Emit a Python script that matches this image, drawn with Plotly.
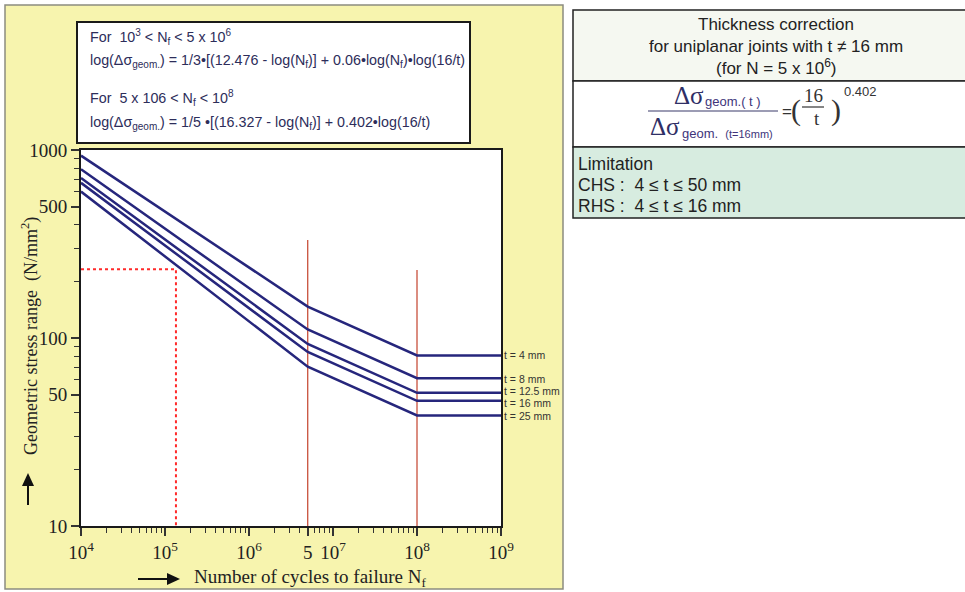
import math
import plotly.graph_objects as go

W, H = 965, 592

# S-N data: number of cycles and geometric stress range (N/mm2) for each wall thickness
cycles = [1e4, 5e6, 1e8, 1e9]
thickness_labels = ["t = 4 mm", "t = 8 mm", "t = 12.5 mm", "t = 16 mm", "t = 25 mm"]
stress_t4 = [933, 147, 80.8, 80.8]
stress_t8 = [790, 111, 61.1, 61.1]
stress_t12_5 = [710, 93.0, 51.1, 51.1]
stress_t16 = [669, 84.3, 46.3, 46.3]
stress_t25 = [601, 70.4, 38.7, 38.7]
series = [stress_t4, stress_t8, stress_t12_5, stress_t16, stress_t25]
label_nudge = [0, -1, 2, -2, 0]

# reference lines: slope changes at 5e6 and cut-off at 1e8
cutoff_cycles = [5e6, 1e8]
cutoff_tops = [332, 230]
# worked example read-off
example_cycles = 1.35e5
example_stress = 232

x_tick_vals = [1e4, 1e5, 1e6, 5e6, 1e7, 1e8, 1e9]
x_tick_text = ["10<sup>4</sup>", "10<sup>5</sup>", "10<sup>6</sup>", "5",
               "10<sup>7</sup>", "10<sup>8</sup>", "10<sup>9</sup>"]
y_tick_vals = [10, 50, 100, 500, 1000]
y_tick_text = ["10", "50", "100", "500", "1000"]

x_minor = [k * 10 ** d for d in range(4, 9) for k in range(2, 10)]
y_minor = [k * 10 ** d for d in range(1, 3) for k in range(2, 10)]

NAVY = "#26267c"
RED = "#c8503c"
DOT_RED = "#ff2a2a"
SERIF = "Liberation Serif"
SANS = "Liberation Sans"
BOX_TEXT = "#2d2d5a"


def px(x):
    return x / W


def py(y):
    return 1 - y / H


fig = go.Figure()

for xc, top in zip(cutoff_cycles, cutoff_tops):
    fig.add_trace(go.Scatter(x=[xc, xc], y=[10, top], mode="lines",
                             line=dict(color=RED, width=1.3), hoverinfo="skip"))

fig.add_trace(go.Scatter(x=[1e4, example_cycles, example_cycles],
                         y=[example_stress, example_stress, 10], mode="lines",
                         line=dict(color=DOT_RED, width=2, dash="dot"), hoverinfo="skip"))

for vals, name in zip(series, thickness_labels):
    fig.add_trace(go.Scatter(x=cycles, y=vals, mode="lines", name=name,
                             line=dict(color=NAVY, width=2.5)))

axis_common = dict(
    type="log", showline=True, linecolor="#1a1a1a", linewidth=2, mirror=True,
    ticks="outside", ticklen=8, tickwidth=1.5, tickcolor="#333",
    showgrid=False, zeroline=False, tickangle=0, automargin=False,
    tickfont=dict(family=SERIF, size=19, color="#222"),
)

fig.update_layout(
    template="none",
    width=W, height=H, margin=dict(l=0, r=0, t=0, b=0, autoexpand=False),
    paper_bgcolor="white", plot_bgcolor="white", showlegend=False,
    xaxis=dict(axis_common, range=[4, 9], domain=[px(81), px(501)],
               tickmode="array", tickvals=x_tick_vals, ticktext=x_tick_text,
               minor=dict(tickmode="array", tickvals=x_minor, ticks="outside",
                          ticklen=5, tickwidth=1.2, tickcolor="#333", showgrid=False)),
    yaxis=dict(axis_common, range=[1, 3], domain=[py(526), py(150)],
               tickmode="array", tickvals=y_tick_vals, ticktext=y_tick_text,
               minor=dict(tickmode="array", tickvals=y_minor, ticks="outside",
                          ticklen=5, tickwidth=1.2, tickcolor="#333", showgrid=False)),
)

shapes = []
# yellow panel holding the diagram
shapes.append(dict(type="rect", xref="paper", yref="paper", layer="below",
                   x0=px(5), x1=px(563), y0=py(589), y1=py(5),
                   fillcolor="#f7f4ae", line=dict(color="#8c8c80", width=1.5)))
# white plotting area
shapes.append(dict(type="rect", xref="paper", yref="paper", layer="below",
                   x0=px(81), x1=px(501), y0=py(526), y1=py(150),
                   fillcolor="white", line=dict(width=0)))
# formula box
shapes.append(dict(type="rect", xref="paper", yref="paper", layer="below",
                   x0=px(77), x1=px(470), y0=py(143), y1=py(22),
                   fillcolor="white", line=dict(color="#1a1a1a", width=2)))
# thickness correction table
for y0, y1, fill in [(10, 81, "#f5f8f1"), (81, 147, "#ffffff"), (147, 218, "#d7ece0")]:
    shapes.append(dict(type="rect", xref="paper", yref="paper", layer="below",
                       x0=px(573), x1=1.02, y0=py(y1), y1=py(y0),
                       fillcolor=fill, line=dict(color="#222", width=1.5)))
# fraction bars
shapes.append(dict(type="line", xref="paper", yref="paper",
                   x0=px(648), x1=px(778), y0=py(111), y1=py(111),
                   line=dict(color="#3a3a6a", width=1.2)))
shapes.append(dict(type="line", xref="paper", yref="paper",
                   x0=px(802), x1=px(824), y0=py(107), y1=py(107),
                   line=dict(color="#333", width=1.2)))
# axis title arrows
shapes.append(dict(type="line", xref="paper", yref="paper",
                   x0=px(138), x1=px(170), y0=py(579), y1=py(579),
                   line=dict(color="#111", width=2)))
shapes.append(dict(type="path", xref="paper", yref="paper",
                   path=f"M {px(167)},{py(573)} L {px(180)},{py(579)} L {px(167)},{py(585)} Z",
                   fillcolor="#111", line=dict(width=0)))
shapes.append(dict(type="line", xref="paper", yref="paper",
                   x0=px(28), x1=px(28), y0=py(505), y1=py(483),
                   line=dict(color="#111", width=2)))
shapes.append(dict(type="path", xref="paper", yref="paper",
                   path=f"M {px(22)},{py(486)} L {px(28)},{py(473)} L {px(34)},{py(486)} Z",
                   fillcolor="#111", line=dict(width=0)))
fig.update_layout(shapes=shapes)

ann = []


def text(x, y, s, size, family=SANS, color="#222", xanchor="left", **kw):
    ann.append(dict(xref="paper", yref="paper", x=px(x), y=py(y), text=s,
                    showarrow=False, xanchor=xanchor, yanchor="middle",
                    font=dict(family=family, size=size, color=color), **kw))


# fatigue equations
text(88, 37, "For  10<sup>3</sup> &lt; N<sub>f</sub> &lt; 5 x 10<sup>6</sup>", 14.3, color=BOX_TEXT)
text(88, 61, "log(Δσ<sub>geom.</sub>) = 1/3•[(12.476 - log(N<sub>f</sub>)] + 0.06•log(N<sub>f</sub>)•log(16/t)",
     14.3, color=BOX_TEXT)
text(88, 98, "For  5 x 106 &lt; N<sub>f</sub> &lt; 10<sup>8</sup>", 14.3, color=BOX_TEXT)
text(88, 123, "log(Δσ<sub>geom.</sub>) = 1/5 •[(16.327 - log(N<sub>f</sub>)] + 0.402•log(16/t)",
     14.3, color=BOX_TEXT)

# curve labels at the right end of each line
for vals, name, dy in zip(series, thickness_labels, label_nudge):
    ann.append(dict(xref="x", yref="y", x=9, y=math.log10(vals[-1]),
                    text=name, showarrow=False, xanchor="left", yanchor="middle",
                    xshift=1, yshift=dy, font=dict(family=SANS, size=10.5, color="#333")))

# axis titles
text(30, 336, "Geometric stress range  (N/mm<sup>2</sup>)", 18, family=SERIF,
     xanchor="center", textangle=-90)
text(192, 578, "Number of cycles to failure N<sub>f</sub>", 19, family=SERIF)

# thickness correction table text
text(776, 25, "Thickness correction", 17, xanchor="center")
text(776, 46, "for uniplanar joints with t ≠ 16 mm", 17, xanchor="center")
text(776, 67, "(for N = 5 x 10<sup>6</sup>)", 17, xanchor="center")

text(689, 95, "Δσ", 25, family=SERIF, color="#2f2f66", xanchor="center")
text(703, 102, "geom.( t )", 13, color="#40357a")
text(665, 127, "Δσ", 25, family=SERIF, color="#2f2f66", xanchor="center")
text(680, 133, "geom.  <span style='font-size:11px'>(t=16mm)</span>", 13, color="#40357a")
text(787, 111, "=", 17, color="#333", xanchor="center")
text(796, 110, "(", 30, family=SERIF, color="#333", xanchor="center")
text(813, 95, "16", 19, family=SERIF, color="#333", xanchor="center")
text(817, 119, "t", 19, family=SERIF, color="#333", xanchor="center")
text(836, 110, ")", 30, family=SERIF, color="#333", xanchor="center")
text(842, 92, "0.402", 13, color="#333")

text(576, 164, "Limitation", 17.5)
text(576, 185, "CHS :  4 ≤ t ≤ 50 mm", 17.5)
text(576, 206, "RHS :  4 ≤ t ≤ 16 mm", 17.5)

fig.update_layout(annotations=ann)

fig.write_html("out.html")
